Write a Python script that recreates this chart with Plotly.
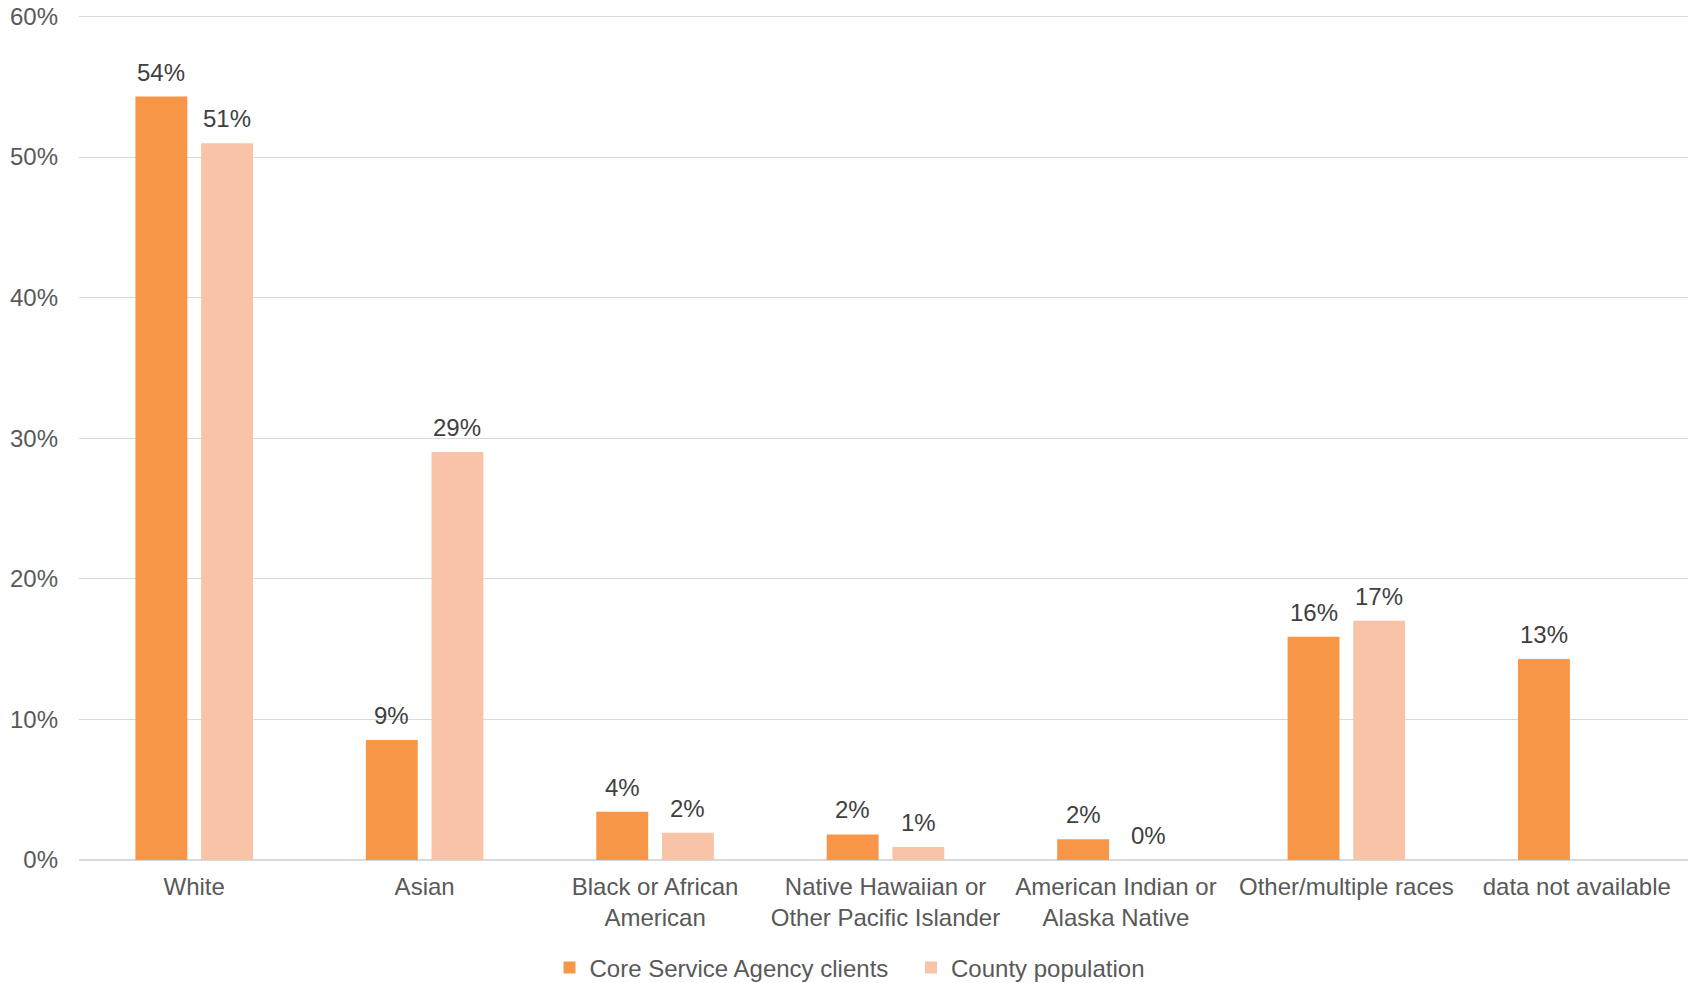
import plotly.graph_objects as go

categories = ["White", "Asian", "Black or African<br>American",
              "Native Hawaiian or<br>Other Pacific Islander",
              "American Indian or<br>Alaska Native", "Other/multiple races",
              "data not available"]
series_names = ["Core Service Agency clients", "County population"]
clients = [54.3, 8.54, 3.44, 1.82, 1.47, 15.87, 14.3]
county = [50.97, 29.02, 1.94, 0.93, 0.0, 17.01, None]
clients_labels = ["54%", "9%", "4%", "2%", "2%", "16%", "13%"]
county_labels = ["51%", "29%", "2%", "1%", "0%", "17%", None]
tick_vals = [0, 10, 20, 30, 40, 50, 60]
tick_text = [f"{v}%" for v in tick_vals]

colors = ["#F79646", "#F9C3A8"]

# the page body keeps its default 8px margin, so the figure is 8px smaller
W, H = 1688, 975
ML, MR, MT, MB = 70.6, 4.4, 7.1, 123
BARGAP = 0.43
BARGROUPGAP = 0.21
FS = 24

fig = go.Figure()
for name, vals, col in zip(series_names, [clients, county], colors):
    fig.add_trace(go.Bar(x=categories, y=vals, name=name,
                         marker=dict(color=col, line=dict(width=0)),
                         hoverinfo="skip"))

# data labels positioned over each bar of the group
plot_w = W - ML - MR
slot = plot_w / len(categories) * (1 - BARGAP) / 2
annotations = []
for i, (vals, labs) in enumerate([(clients, clients_labels), (county, county_labels)]):
    for c, v, t in zip(categories, vals, labs):
        if v is None or t is None:
            continue
        annotations.append(dict(x=c, y=v, text=t, showarrow=False,
                                xanchor="center", yanchor="bottom",
                                xshift=(i - 0.5) * slot, yshift=9,
                                font=dict(family="Liberation Sans, Arial", size=FS, color="#404040")))

fig.update_layout(
    width=W, height=H,
    margin=dict(l=ML, r=MR, t=MT, b=MB, autoexpand=False),
    paper_bgcolor="white", plot_bgcolor="white",
    barmode="group", bargap=BARGAP, bargroupgap=BARGROUPGAP,
    font=dict(family="Liberation Sans, Arial", size=FS, color="#595959"),
    showlegend=True,
    legend=dict(orientation="h", xref="container", yref="container",
                x=(581.5 - 40) / W, xanchor="left", y=1 - 960 / H, yanchor="middle",
                font=dict(size=FS, color="#595959"), itemwidth=30,
                entrywidth=316.5, entrywidthmode="pixels",
                traceorder="normal"),
    annotations=annotations,
    xaxis=dict(showgrid=False, showline=False, ticks="", tickfont=dict(size=FS, color="#595959"),
               ticklabelstandoff=10, automargin=False),
    yaxis=dict(range=[0, 60.1], tickmode="array", tickvals=tick_vals, ticktext=tick_text,
               showgrid=True, gridcolor="#D9D9D9", gridwidth=1.3, zeroline=True,
               zerolinecolor="#D9D9D9", zerolinewidth=2, showline=False, ticks="",
               ticklabelstandoff=20, ticklabeloverflow="allow",
               tickfont=dict(size=FS, color="#595959"), automargin=False),
)

fig.write_html("out.html")
